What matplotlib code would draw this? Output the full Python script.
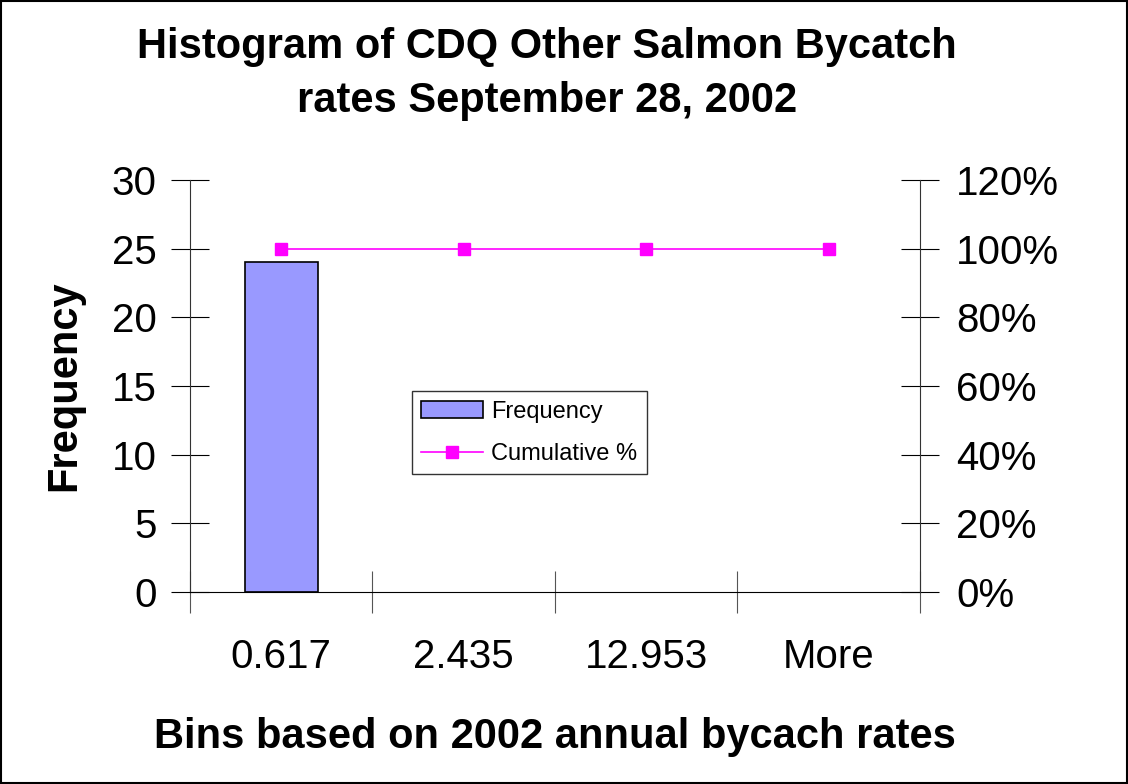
import matplotlib
matplotlib.use("Agg")
import matplotlib.pyplot as plt
import numpy as np
from matplotlib.ticker import PercentFormatter

plt.rcParams['font.family'] = ['Liberation Sans', 'DejaVu Sans']

bins = ['0.617', '2.435', '12.953', 'More']
frequency = [24, 0, 0, 0]
cumulative = [100, 100, 100, 100]

fig = plt.figure(figsize=(11.28, 7.84), dpi=100)
ax = fig.add_axes([0.1684, 0.2449, 0.6472, 0.5255])
x = np.arange(len(bins))

# zero-height bars should not leave an outline on the axis
edges = ['black' if f > 0 else 'none' for f in frequency]
ax.bar(x, frequency, width=0.4, color='#9999FF', edgecolor=edges, linewidth=1.2,
       label='Frequency', zorder=2)
ax.set_xlim(-0.5, len(bins) - 0.5)
ax.set_ylim(0, 30)
ax.set_yticks(range(0, 31, 5))
ax.set_xticks(np.arange(-0.5, len(bins), 1.0))
ax.set_xticklabels([])
ax.set_xticks(x, minor=True)
ax.set_xticklabels(bins, minor=True, fontsize=29)
ax.tick_params(axis='x', which='minor', length=0, pad=33)
ax.tick_params(axis='x', which='major', direction='inout', length=30, color='#555555')
ax.tick_params(axis='y', direction='inout', length=28, labelsize=29, pad=10)
ax.spines['top'].set_visible(False)
ax.spines['right'].set_visible(False)
ax.spines['left'].set_color('#333333')
ax.spines['bottom'].set_color('black')

ax2 = ax.twinx()
ax2.plot(x, cumulative, color='#FF00FF', marker='s', markersize=8, linewidth=1.2,
         label='Cumulative %', zorder=3)
ax2.set_ylim(0, 120)
ax2.set_yticks(range(0, 121, 20))
ax2.yaxis.set_major_formatter(PercentFormatter(decimals=0))
ax2.tick_params(axis='y', direction='inout', length=28, labelsize=29, pad=12)
ax2.spines['top'].set_visible(False)
ax2.spines['left'].set_visible(False)
ax2.spines['bottom'].set_visible(False)
ax2.spines['right'].set_color('#333333')

ax.set_ylabel('Frequency', fontsize=30, fontweight='bold', labelpad=20)
ax.set_xlabel('Bins based on 2002 annual bycach rates', fontsize=30,
              fontweight='bold', labelpad=30)
fig.suptitle('Histogram of CDQ Other Salmon Bycatch\nrates September 28, 2002',
             fontsize=30, fontweight='bold', x=0.485, y=0.965, linespacing=1.45)

h1, l1 = ax.get_legend_handles_labels()
h2, l2 = ax2.get_legend_handles_labels()
leg = ax2.legend(h1 + h2, l1 + l2, loc='upper left', bbox_to_anchor=(0.304, 0.487),
                 fontsize=17, frameon=True, fancybox=False, edgecolor='black',
                 handlelength=2.6, handletextpad=0.35, borderpad=0.4,
                 labelspacing=0.85, borderaxespad=0)
leg.get_frame().set_linewidth(1.0)

fig.patches.append(plt.Rectangle((0.001, 0.001), 0.998, 0.998, transform=fig.transFigure,
                                 fill=False, edgecolor='black', linewidth=1.5))

fig.savefig('out.png', dpi=100)
